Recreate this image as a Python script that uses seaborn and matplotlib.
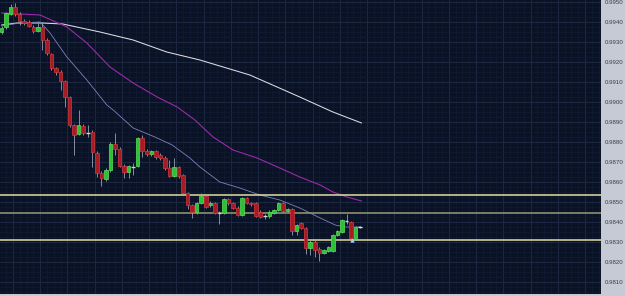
import numpy as np
import pandas as pd
import matplotlib
matplotlib.use("Agg")
import matplotlib.pyplot as plt
import seaborn as sns

# ---- candle data (price) ----
opens = [0.99350, 0.99375, 0.99440, 0.99475, 0.99440, 0.99405, 0.99400, 0.99375, 0.99355, 0.99375,
         0.99310, 0.99240, 0.99170, 0.99150, 0.99105, 0.99025, 0.98885, 0.98840, 0.98880, 0.98845,
         0.98850, 0.98745, 0.98645, 0.98615, 0.98660, 0.98790, 0.98765, 0.98680, 0.98650, 0.98675,
         0.98680, 0.98820, 0.98755, 0.98740, 0.98755, 0.98735, 0.98720, 0.98670, 0.98630, 0.98675,
         0.98635, 0.98545, 0.98485, 0.98450, 0.98495, 0.98530, 0.98485, 0.98495, 0.98445, 0.98445,
         0.98515, 0.98495, 0.98470, 0.98435, 0.98520, 0.98495, 0.98495, 0.98450, 0.98430, 0.98430,
         0.98445, 0.98460, 0.98495, 0.98455, 0.98465, 0.98355, 0.98395, 0.98370, 0.98270, 0.98300,
         0.98265, 0.98245, 0.98255, 0.98255, 0.98335, 0.98350, 0.98405, 0.98400, 0.98315, 0.98375]
highs = [0.99380, 0.99450, 0.99490, 0.99495, 0.99450, 0.99415, 0.99410, 0.99385, 0.99400, 0.99400,
         0.99320, 0.99245, 0.99175, 0.99160, 0.99110, 0.99030, 0.98890, 0.98960, 0.98890, 0.98885,
         0.98860, 0.98755, 0.98655, 0.98670, 0.98800, 0.98845, 0.98775, 0.98690, 0.98685, 0.98695,
         0.98825, 0.98835, 0.98765, 0.98760, 0.98760, 0.98745, 0.98730, 0.98710, 0.98720, 0.98680,
         0.98640, 0.98550, 0.98490, 0.98500, 0.98545, 0.98535, 0.98505, 0.98500, 0.98455, 0.98520,
         0.98520, 0.98500, 0.98480, 0.98525, 0.98525, 0.98500, 0.98500, 0.98460, 0.98440, 0.98460,
         0.98465, 0.98500, 0.98500, 0.98470, 0.98470, 0.98390, 0.98400, 0.98375, 0.98310, 0.98310,
         0.98275, 0.98265, 0.98280, 0.98340, 0.98360, 0.98415, 0.98440, 0.98405, 0.98380, 0.98380]
lows = [0.99340, 0.99365, 0.99435, 0.99430, 0.99385, 0.99385, 0.99375, 0.99345, 0.99350, 0.99260,
        0.99235, 0.99160, 0.99135, 0.99060, 0.98975, 0.98875, 0.98735, 0.98835, 0.98835, 0.98825,
        0.98675, 0.98625, 0.98580, 0.98605, 0.98650, 0.98735, 0.98675, 0.98620, 0.98620, 0.98635,
        0.98675, 0.98725, 0.98730, 0.98730, 0.98715, 0.98710, 0.98660, 0.98625, 0.98625, 0.98620,
        0.98540, 0.98465, 0.98420, 0.98440, 0.98490, 0.98470, 0.98475, 0.98440, 0.98390, 0.98440,
        0.98485, 0.98465, 0.98430, 0.98430, 0.98490, 0.98480, 0.98425, 0.98420, 0.98415, 0.98420,
        0.98440, 0.98455, 0.98450, 0.98450, 0.98335, 0.98335, 0.98365, 0.98240, 0.98235, 0.98225,
        0.98205, 0.98240, 0.98250, 0.98250, 0.98330, 0.98345, 0.98390, 0.98315, 0.98310, 0.98370]
closes = [0.99370, 0.99445, 0.99475, 0.99440, 0.99405, 0.99395, 0.99380, 0.99355, 0.99375, 0.99310,
          0.99245, 0.99170, 0.99150, 0.99105, 0.99025, 0.98885, 0.98835, 0.98885, 0.98845, 0.98845,
          0.98750, 0.98645, 0.98620, 0.98660, 0.98790, 0.98765, 0.98680, 0.98650, 0.98680, 0.98675,
          0.98820, 0.98755, 0.98740, 0.98755, 0.98725, 0.98720, 0.98670, 0.98630, 0.98675, 0.98630,
          0.98545, 0.98485, 0.98450, 0.98495, 0.98530, 0.98475, 0.98495, 0.98445, 0.98445, 0.98515,
          0.98495, 0.98470, 0.98435, 0.98520, 0.98495, 0.98488, 0.98430, 0.98425, 0.98430, 0.98450,
          0.98460, 0.98495, 0.98455, 0.98465, 0.98355, 0.98385, 0.98370, 0.98270, 0.98300, 0.98260,
          0.98245, 0.98260, 0.98275, 0.98335, 0.98355, 0.98410, 0.98405, 0.98320, 0.98375, 0.98375]

# ---- moving averages (bar index, price) ----
ma_fast_idx = [0, 4, 8.5, 10.7, 14.4, 18.8, 23.2, 24.6, 29.0, 33.8, 37.6, 41.5, 43.7, 48.1, 52.5,
               56.9, 61.3, 65.7, 70.2, 73.5, 75.7, 79]
ma_fast_val = [0.99380, 0.99395, 0.99400, 0.99345, 0.99225, 0.99110, 0.98985, 0.98960, 0.98870,
               0.98825, 0.98785, 0.98720, 0.98675, 0.98600, 0.98570, 0.98535, 0.98510, 0.98470,
               0.98420, 0.98385, 0.98375, 0.98375]
ma_mid_idx = [0, 8.5, 14.4, 18.8, 23.9, 29.0, 34.3, 38.7, 42.6, 46.6, 51.0, 56.3, 61.3, 65.7,
              70.2, 73.0, 76.1, 79.3]
ma_mid_val = [0.99445, 0.99435, 0.99375, 0.99295, 0.99175, 0.99095, 0.99025, 0.98975, 0.98910,
              0.98825, 0.98760, 0.98720, 0.98670, 0.98625, 0.98585, 0.98550, 0.98525, 0.98505]
ma_slow_idx = [0, 3.4, 8.9, 13.5, 21.7, 29.0, 36.4, 43.7, 54.7, 65.7, 73.0, 79.3]
ma_slow_val = [0.99385, 0.99395, 0.99395, 0.99390, 0.99350, 0.99310, 0.99250, 0.99210, 0.99135,
               0.99025, 0.98950, 0.98895]

# ---- horizontal levels ----
levels = [0.98535, 0.98445, 0.98310]
level_colors = ["#e2e0a4", "#979a78", "#e2e0a4"]

# ---- y tick labels ----
ytick_vals = [0.9950, 0.9940, 0.9930, 0.9920, 0.9910, 0.9900, 0.9890, 0.9880, 0.9870,
              0.9860, 0.9850, 0.9840, 0.9830, 0.9820, 0.9810]

df = pd.DataFrame({"open": opens, "high": highs, "low": lows, "close": closes})
df["i"] = np.arange(len(df))

sns.set_style("dark")
bg = "#0a1226"
fig = plt.figure(figsize=(6.25, 2.96), dpi=100)
fig.patch.set_facecolor("#c6cad4")
ax = fig.add_axes([0, 2 / 296, 601 / 625, 294 / 296])
ax.set_facecolor(bg)

# grid
x0 = -1.5 / 4.54
x1 = (601 - 1.5) / 4.54
ax.set_xlim(x0, x1)
ax.set_ylim(0.9951 - 294 * 0.00005, 0.9951)
maj_x = np.arange(2.53, x1, 6.0)
min_x = np.arange(2.53 - 6, x1, 1.5)
for xv in min_x:
    ax.axvline(xv, color="#131c33", lw=0.5, zorder=0)
for xv in maj_x:
    ax.axvline(xv, color="#212b45", lw=0.6, zorder=0)
min_y = np.arange(0.9800, 0.9955, 0.00025)
for yv in min_y:
    ax.axhline(yv, color="#131c33", lw=0.5, zorder=0)
for yv in ytick_vals:
    ax.axhline(yv, color="#212b45", lw=0.6, zorder=0)
ax.grid(False)

# moving averages via seaborn
sns.lineplot(x=ma_slow_idx, y=ma_slow_val, ax=ax, color="#dcdce4", lw=0.75, zorder=2)
sns.lineplot(x=ma_mid_idx, y=ma_mid_val, ax=ax, color="#9a2aa8", lw=0.8, zorder=2)
sns.lineplot(x=ma_fast_idx, y=ma_fast_val, ax=ax, color="#7d82b8", lw=0.6, zorder=2)

# horizontal lines
for lv, lc in zip(levels, level_colors):
    ax.axhline(lv, color=lc, lw=1.1, zorder=3)

# candles
w = 0.78
for _, r in df.iterrows():
    o, h, l, c, i = r["open"], r["high"], r["low"], r["close"], r["i"]
    ax.vlines(i, l, h, color="#9aa0b2", lw=0.6, zorder=4)
    if abs(c - o) < 0.00003:
        col = "#e8e8ee" if i == len(df) - 1 else "#d0d2dc"
        ax.hlines(o, i - w / 2, i + w / 2, color=col, lw=1.0, zorder=5)
        continue
    if c > o:
        fc, ec = "#2cc233", "#5ee05e"
    else:
        fc, ec = "#a51c24", "#d8383e"
    ax.bar(i, abs(c - o), bottom=min(o, c), width=w, color=fc, edgecolor=ec, lw=0.5, zorder=5)

# marker arrow
ax.scatter([77.3], [0.98312], marker="^", s=10, color="#9fd2f2", zorder=6, linewidths=0)

# y axis on right
ax.yaxis.tick_right()
ax.set_yticks(ytick_vals)
ax.set_yticklabels([f"{v:.4f}" for v in ytick_vals], fontsize=4.4, color="#3a3d45",
                   family=["Liberation Sans", "DejaVu Sans"])
ax.tick_params(axis="y", length=0, pad=3)
ax.set_xticks([])
ax.set_xlabel("")
ax.set_ylabel("")
for s in ax.spines.values():
    s.set_visible(False)

fig.savefig("out.png", dpi=100, facecolor=fig.get_facecolor())
